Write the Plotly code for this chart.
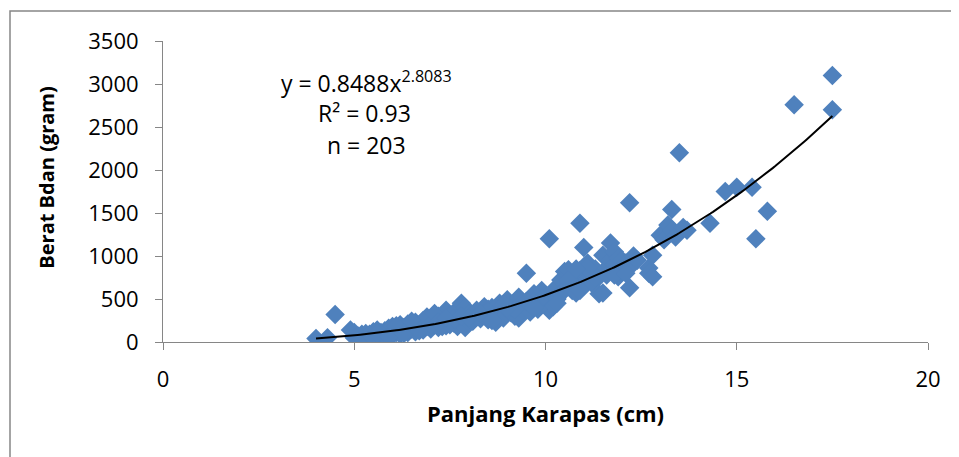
import numpy as np
import plotly.graph_objects as go

# Panjang Karapas (cm) and Berat Badan (gram)
panjang = [
    4.0, 4.3, 4.5, 4.9, 5.0, 5.0, 5.1, 5.2, 5.3, 5.3,
    5.4, 5.5, 5.5, 5.6, 5.6, 5.7, 5.7, 5.8, 5.8, 5.9,
    5.9, 6.0, 6.0, 6.0, 6.1, 6.1, 6.2, 6.2, 6.3, 6.3,
    6.4, 6.4, 6.5, 6.5, 6.6, 6.6, 6.7, 6.7, 6.8, 6.8,
    6.9, 6.9, 7.0, 7.0, 7.1, 7.1, 7.2, 7.2, 7.3, 7.3,
    7.4, 7.4, 7.5, 7.5, 7.6, 7.6, 7.7, 7.7, 7.8, 7.8,
    7.9, 7.9, 8.0, 8.0,
    8.1, 8.2, 8.2, 8.3, 8.4, 8.4, 8.5, 8.5, 8.6, 8.6,
    8.7, 8.7, 8.8, 8.8, 8.9, 8.9, 9.0, 9.0, 9.1, 9.1,
    9.2, 9.2, 9.3, 9.3, 9.4, 9.4, 9.5, 9.5, 9.6, 9.6,
    9.7, 9.7, 9.8, 9.8, 9.9, 9.9, 10.0, 10.0,
    10.1, 10.1, 10.2, 10.2, 10.3, 10.4, 10.4, 10.5, 10.5, 10.6,
    10.6, 10.7, 10.7, 10.8, 10.8, 10.9, 10.9, 11.0, 11.0, 11.0,
    11.1, 11.1, 11.2, 11.2, 11.3, 11.4, 11.4, 11.5, 11.5, 11.6,
    11.6, 11.7, 11.7, 11.8, 11.8, 11.9, 11.9, 12.0, 12.0, 12.1,
    12.2, 12.2, 12.2, 12.3,
    12.7, 12.7, 12.8, 12.8, 13.0, 13.1, 13.2, 13.3, 13.3, 13.4,
    13.5, 13.6, 13.7, 14.3, 14.7, 15.0, 15.4, 15.5, 15.8, 16.5,
    17.5, 17.5,
    5.2, 5.4, 5.6, 5.9, 6.1, 6.3, 6.5, 6.7, 6.9, 7.0,
    7.1, 7.3, 7.5, 7.6, 7.8, 8.0, 7.2, 7.4,
    8.3, 8.6, 8.9, 9.2, 9.5, 9.8, 9.0, 9.7,
    10.3, 10.6, 10.9, 11.3, 11.8, 12.1, 11.1, 10.8, 12.4,
]
berat = [
    40, 50, 320, 140, 110, 50, 70, 90, 60, 100,
    50, 80, 120, 60, 140, 90, 110, 70, 130, 100,
    160, 80, 120, 180, 110, 150, 90, 200, 130, 170,
    110, 210, 150, 190, 120, 230, 160, 200, 140, 250,
    180, 220, 150, 270, 200, 240, 170, 300, 210, 260,
    190, 370, 240, 310, 220, 340, 180, 280, 250, 450,
    170, 400, 230, 320,
    240, 370, 290, 270, 410, 330, 260, 380, 300, 400,
    230, 350, 450, 310, 380, 280, 490, 330, 400, 340,
    300, 440, 520, 280, 370, 460, 800, 410, 500, 350,
    450, 560, 420, 520, 600, 480, 550, 440,
    1200, 370, 410, 600, 500, 720, 560, 820, 610, 650,
    840, 600, 760, 570, 700, 1380, 830, 1100, 780, 650,
    920, 720, 800, 690, 850, 760, 560, 1010, 570, 860,
    780, 1150, 950, 1050, 900, 760, 980, 950, 830, 920,
    1620, 630, 870, 1000,
    860, 800, 1010, 760, 1240, 1190, 1360, 1540, 1300, 1220,
    2200, 1330, 1300, 1380, 1750, 1800, 1800, 1200, 1520, 2760,
    3100, 2700,
    40, 90, 100, 60, 190, 100, 240, 130, 290, 200,
    330, 180, 200, 270, 300, 280, 230, 280,
    330, 250, 430, 380, 470, 380, 400, 400,
    450, 720, 600, 750, 780, 800, 860, 850, 950,
]

# Power trendline y = a * x^b (from the chart's equation)
coef_a = 0.8488
coef_b = 2.8083
x_tick_vals = [0, 5, 10, 15, 20]
y_tick_vals = [0, 500, 1000, 1500, 2000, 2500, 3000, 3500]

trend_x = np.linspace(min(panjang), max(panjang), 200)
trend_y = coef_a * trend_x ** coef_b

FONT = "Open Sans"
AXIS_GRAY = "#868686"

fig = go.Figure()
fig.add_trace(go.Scatter(
    x=panjang, y=berat, mode="markers",
    marker=dict(symbol="diamond", size=15, color="#4F81BD", line=dict(width=0)),
    showlegend=False, hoverinfo="x+y",
))
fig.add_trace(go.Scatter(
    x=trend_x, y=trend_y, mode="lines",
    line=dict(color="black", width=2), showlegend=False, hoverinfo="skip",
))

fig.update_layout(
    width=951, height=449,
    margin=dict(l=155, r=31, t=33, b=115),
    paper_bgcolor="white", plot_bgcolor="white",
    font=dict(family=FONT, color="black"),
    xaxis=dict(
        range=[0, 20], tickvals=x_tick_vals, showgrid=False, zeroline=False,
        showline=True, linecolor=AXIS_GRAY, linewidth=1, automargin=False,
        ticks="outside", ticklen=7, tickcolor=AXIS_GRAY,
        tickfont=dict(size=22, family=FONT), ticklabelstandoff=11,
        title=dict(text="<b>Panjang Karapas (cm)</b>", font=dict(size=22, family=FONT), standoff=14),
    ),
    yaxis=dict(
        range=[0, 3500], tickvals=y_tick_vals, showgrid=False, zeroline=False,
        showline=True, linecolor=AXIS_GRAY, linewidth=1, automargin=False,
        ticks="outside", ticklen=7, tickcolor=AXIS_GRAY,
        tickfont=dict(size=22, family=FONT), ticklabelstandoff=12,
    ),
    shapes=[dict(
        type="rect", xref="paper", yref="paper",
        x0=-0.2, x1=1.035, y0=-0.6, y1=1.0997,
        line=dict(color=AXIS_GRAY, width=1.5), fillcolor="rgba(0,0,0,0)", layer="below",
    )],
    annotations=[
        dict(text="<b>Berat Bdan (gram)</b>", xref="paper", yref="paper",
             x=-0.152, y=0.545, xanchor="center", yanchor="middle", textangle=-90,
             showarrow=False, font=dict(size=20, family=FONT)),
        dict(text="y = 0.8488x<sup>2.8083</sup>", xref="paper", yref="paper",
             x=0.266, y=0.865, xanchor="center", yanchor="middle",
             showarrow=False, font=dict(size=23, family=FONT)),
        dict(text="R² = 0.93", xref="paper", yref="paper",
             x=0.264, y=0.761, xanchor="center", yanchor="middle",
             showarrow=False, font=dict(size=23, family=FONT)),
        dict(text="n = 203", xref="paper", yref="paper",
             x=0.266, y=0.654, xanchor="center", yanchor="middle",
             showarrow=False, font=dict(size=23, family=FONT)),
    ],
)

fig.write_html("out.html")
